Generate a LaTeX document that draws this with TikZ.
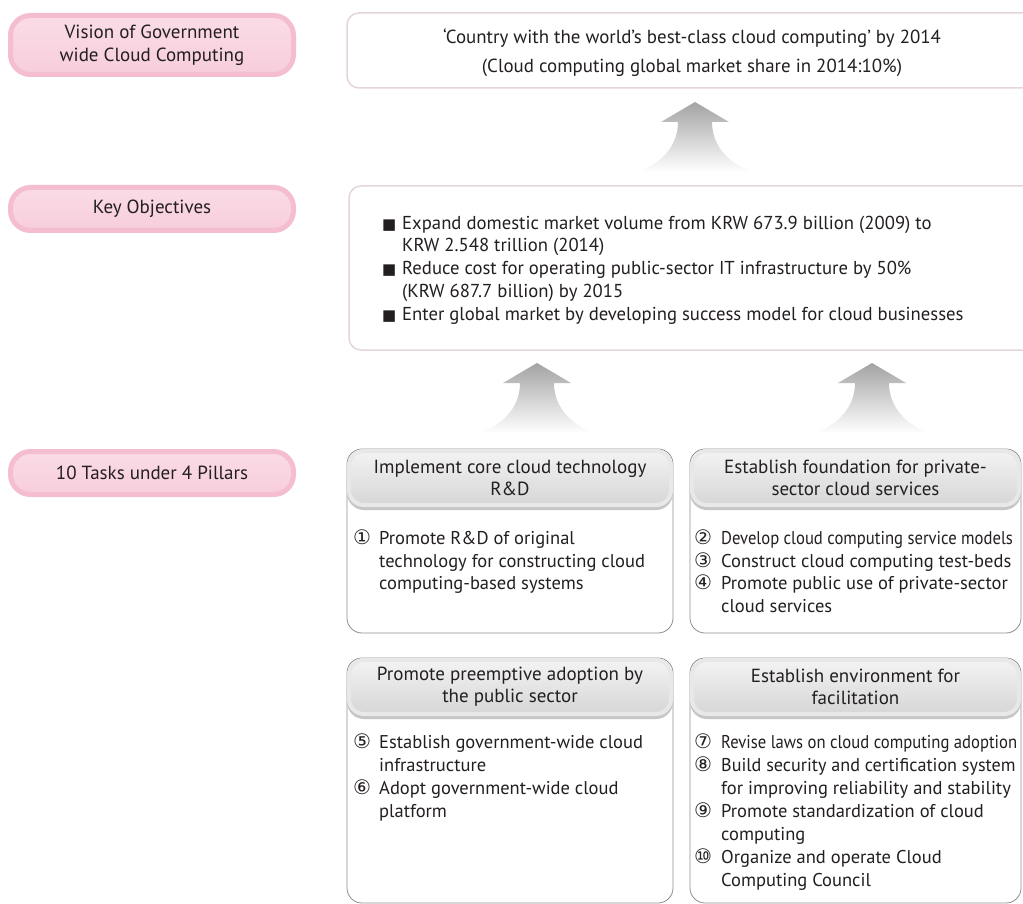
\documentclass[tikz,border=0pt]{standalone}
\usepackage{graphicx}
\usepackage{fontspec}
\setmainfont{PT Sans}
\newfontfamily\sym{DejaVu Sans}
\definecolor{txt}{HTML}{231F20}
\definecolor{pinkband}{HTML}{F4BDD0}
\definecolor{pinktop}{HTML}{FADCE6}
\definecolor{pinkbot}{HTML}{F7CEDB}
\definecolor{visline}{HTML}{E4D4DD}
\definecolor{boxline}{HTML}{8E8E8E}
\definecolor{headband}{HTML}{E8E8E8}
\definecolor{headtop}{HTML}{F3F3F3}
\definecolor{headbot}{HTML}{D6D6D6}
\definecolor{headshadow}{HTML}{C6C6C6}
\definecolor{arrowtop}{HTML}{A3A3A3}
\tikzset{
  pinklabel/.style={draw=pinkband, line width=5pt, rounded corners=20pt,
    top color=pinktop, bottom color=pinkbot, minimum width=283pt,
    align=center, font=\fontsize{19}{23}\selectfont, text=txt, inner sep=0pt},
  visbox/.style={draw=visline, line width=1.5pt, rounded corners=12pt, fill=white,
    align=center, text=txt, inner sep=0pt},
  vistext/.style={align=center, text=txt, inner sep=0pt, font=\fontsize{18.9}{29}\selectfont},
  taskbody/.style={draw=boxline, line width=0.8pt, rounded corners=15pt, fill=white, inner sep=0pt},
  taskhead/.style={draw=headband, line width=4pt, rounded corners=15pt,
    top color=headtop, bottom color=headbot, align=center, text=txt, inner sep=0pt,
    font=\fontsize{19}{22}\selectfont,
    preaction={fill=headshadow, draw=headshadow, transform canvas={yshift=-3pt}}},
  kotext/.style={anchor=base west, inner sep=0pt, text=txt, font=\fontsize{18.7}{20}\selectfont},
  kobullet/.style={anchor=base west, inner sep=0pt, text=txt, font=\sym\fontsize{15}{16}\selectfont},
  bodytext/.style={anchor=base west, inner sep=0pt, text=txt, font=\fontsize{18.5}{20}\selectfont},
  numtext/.style={anchor=base west, inner sep=0pt, text=txt, font=\sym\fontsize{20}{20}\selectfont},
  pics/uparrow/.style={code={
    \shade[top color=arrowtop, bottom color=white]
      (0,0) -- (34,20) -- (17,20) .. controls (17,45) and (35,62) .. (57,70)
      -- (-57,70) .. controls (-35,62) and (-17,45) .. (-17,20) -- (-34,20) -- cycle;
  }}
}
\begin{document}
\begin{tikzpicture}[x=1pt,y=-1pt]
\useasboundingbox (0,0) rectangle (1023,904);
\fill[white] (0,0) rectangle (1023,904);

% left labels
\node[pinklabel, minimum height=59pt] (lvision) at (152,45) {Vision of Government\\wide Cloud Computing};
\node[pinklabel, minimum height=43pt] (lkey) at (152,209) {Key Objectives};
\node[pinklabel, minimum height=43pt] (ltasks) at (152,473) {10 Tasks under 4 Pillars};

% vision box
\node[visbox, minimum width=693pt, minimum height=75pt] (vision) at (693.5,50.5) {};
\node[vistext] (visiontext) at (692,53)
  {‘Country with the world’s best-class cloud computing’ by 2014\\(Cloud computing global market share in 2014:10\%)};

% arrows
\pic at (695,102) {uparrow};
\pic at (537,363) {uparrow};
\pic at (872,363) {uparrow};

% key objectives box
\node[visbox, minimum width=691pt, minimum height=164pt] (keyobj) at (694.5,268) {};
\node[kobullet] (b1) at (382,230) {■};
\node[kotext] (k1a) at (402,230) {Expand domestic market volume from KRW 673.9 billion (2009) to};
\node[kotext] (k1b) at (402,252) {KRW 2.548 trillion (2014)};
\node[kobullet] (b2) at (382,274) {■};
\node[kotext] (k2a) at (402,274) {Reduce cost for operating public-sector IT infrastructure by 50\%};
\node[kotext] (k2b) at (402,297) {(KRW 687.7 billion) by 2015};
\node[kobullet] (b3) at (382,320) {■};
\node[kotext] (k3a) at (402,320) {Enter global market by developing success model for cloud businesses};

% task boxes
\node[taskbody, minimum width=326pt, minimum height=184pt] (t1) at (510,541) {};
\node[taskbody, minimum width=331pt, minimum height=184pt] (t2) at (855.5,541) {};
\node[taskbody, minimum width=326pt, minimum height=245pt] (t3) at (510,780.5) {};
\node[taskbody, minimum width=331pt, minimum height=245pt] (t4) at (855.5,780.5) {};

\node[taskhead, minimum width=322pt, minimum height=54pt] (h1) at (510,478) {Implement core cloud technology\\R\&D};
\node[taskhead, minimum width=327pt, minimum height=54pt] (h2) at (855.5,478) {Establish foundation for private-\\sector cloud services};
\node[taskhead, minimum width=322pt, minimum height=54pt] (h3) at (510,687) {Promote preemptive adoption by\\the public sector};
\node[taskhead, minimum width=327pt, minimum height=54pt] (h4) at (855.5,687) {Establish environment for\\facilitation};

% box 1
\node[numtext] (n1) at (353,544) {①};
\node[bodytext] (t1a) at (379,544) {Promote R\&D of original};
\node[bodytext] (t1b) at (379,567) {technology for constructing cloud};
\node[bodytext] (t1c) at (379,589) {computing-based systems};

% box 2
\node[numtext] (n2) at (694,544) {②};
\node[bodytext] (t2a) at (721,544) {\scalebox{0.9}[1]{Develop cloud computing service models}};
\node[numtext] (n3) at (694,567) {③};
\node[bodytext] (t2b) at (721,567) {Construct cloud computing test-beds};
\node[numtext] (n4) at (694,589) {④};
\node[bodytext] (t2c) at (721,589) {Promote public use of private-sector};
\node[bodytext] (t2d) at (721,612) {cloud services};

% box 3
\node[numtext] (n5) at (353,748) {⑤};
\node[bodytext] (t3a) at (379,748) {Establish government-wide cloud};
\node[bodytext] (t3b) at (379,771) {infrastructure};
\node[numtext] (n6) at (353,794) {⑥};
\node[bodytext] (t3c) at (379,794) {Adopt government-wide cloud};
\node[bodytext] (t3d) at (379,817) {platform};

% box 4
\node[numtext] (n7) at (694,748) {⑦};
\node[bodytext] (t4a) at (721,748) {\scalebox{0.9}[1]{Revise laws on cloud computing adoption}};
\node[numtext] (n8) at (694,771) {⑧};
\node[bodytext] (t4b) at (721,771) {\scalebox{0.98}[1]{Build security and certification system}};
\node[bodytext] (t4c) at (721,794) {for improving reliability and stability};
\node[numtext] (n9) at (694,817) {⑨};
\node[bodytext] (t4d) at (721,817) {Promote standardization of cloud};
\node[bodytext] (t4e) at (721,840) {computing};
\node[numtext] (n10) at (694,863) {⑩};
\node[bodytext] (t4f) at (721,863) {Organize and operate Cloud};
\node[bodytext] (t4g) at (721,886) {Computing Council};
\end{tikzpicture}
\end{document}
